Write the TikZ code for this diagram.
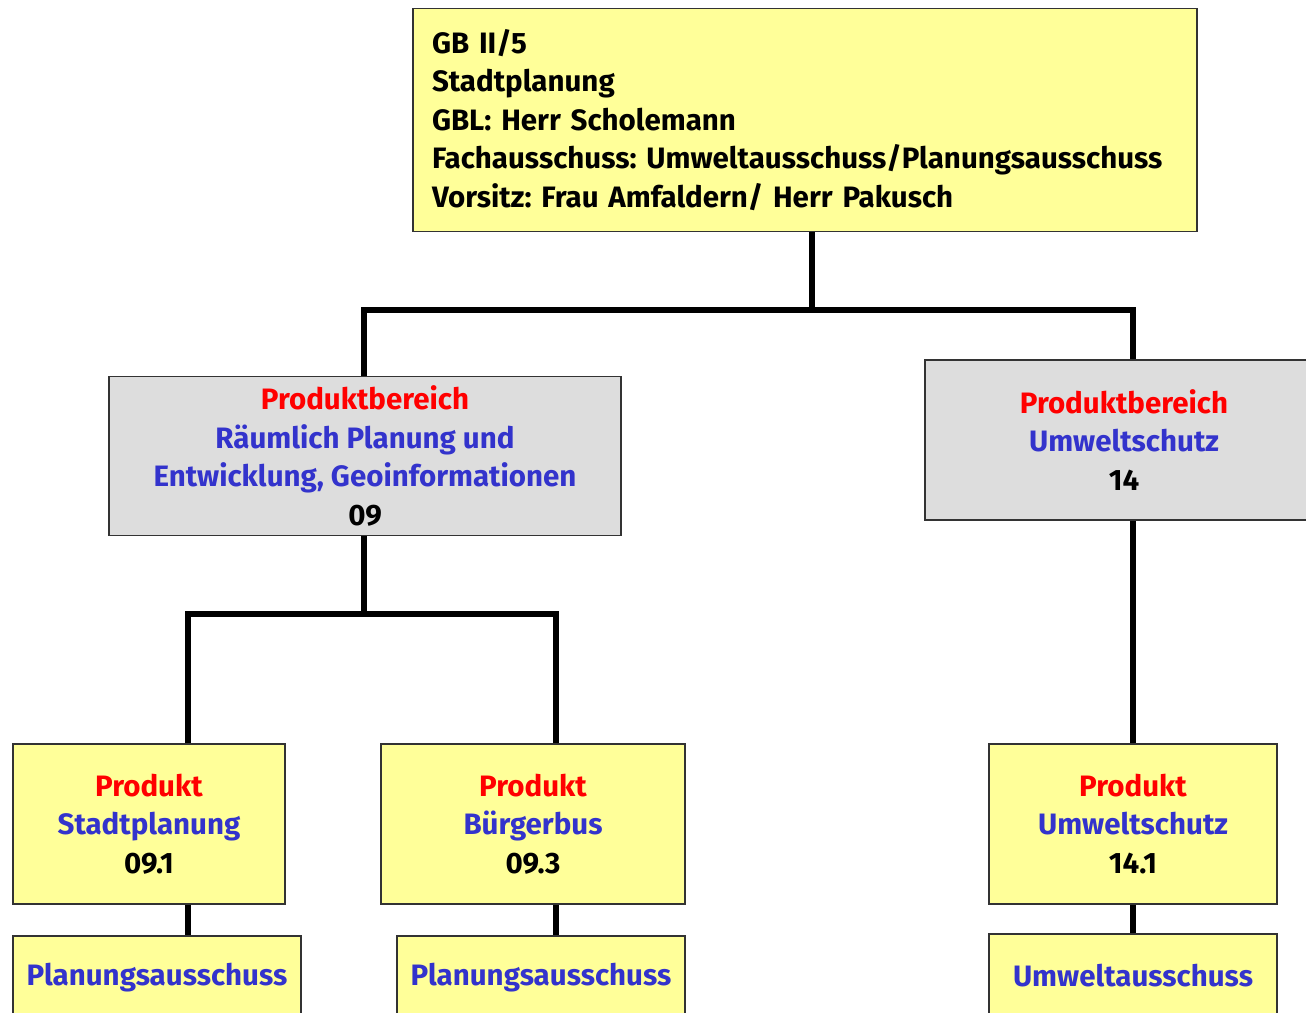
\documentclass[tikz,border=0pt]{standalone}
\usepackage{fontspec}
\setmainfont{Fira Sans}
\usetikzlibrary{positioning,calc}
\definecolor{boxyellow}{HTML}{FFFF99}
\definecolor{boxgrey}{HTML}{DDDDDD}
\definecolor{prodred}{HTML}{FF0000}
\definecolor{prodblue}{HTML}{3333CC}
\frenchspacing

\begin{document}
\begin{tikzpicture}[x=1pt,y=-1pt,
  box/.style={draw=black!80, line width=1.5pt, inner sep=0pt, align=center,
    font=\bfseries\fontsize{29.5}{38.5}\selectfont},
  yellowbox/.style={box, fill=boxyellow},
  greybox/.style={box, fill=boxgrey},
  conn/.style={line width=6pt}]
\useasboundingbox (0,0) rectangle (1306,1012);
\clip (0,0) rectangle (1306,1012);

% Connector points
\coordinate (j1) at (812,310);
\coordinate (j2) at (364,614);
\coordinate (c1) at (188,0);
\coordinate (c2) at (556,0);

% Boxes
\node[yellowbox, minimum width=784, minimum height=223, text width=746, align=left] (gb) at (805,120)
  {GB II/5\\Stadtplanung\\GBL: Herr Scholemann\\Fachausschuss: Umweltausschuss/Planungsausschuss\\Vorsitz: Frau Amfaldern/ Herr Pakusch};
\node[greybox, minimum width=512, minimum height=159] (pb09) at (365,456)
  {\textcolor{prodred}{Produktbereich}\\\textcolor{prodblue}{Räumlich Planung und}\\\textcolor{prodblue}{Entwicklung, Geoinformationen}\\09};
\node[greybox, minimum width=398, minimum height=160] (pb14) at (1124,440)
  {\textcolor{prodred}{Produktbereich}\\\textcolor{prodblue}{Umweltschutz}\\14};
\node[yellowbox, minimum width=272, minimum height=160] (p091) at (149,824)
  {\textcolor{prodred}{Produkt}\\\textcolor{prodblue}{Stadtplanung}\\09.1};
\node[yellowbox, minimum width=304, minimum height=160] (p093) at (533,824)
  {\textcolor{prodred}{Produkt}\\\textcolor{prodblue}{Bürgerbus}\\09.3};
\node[yellowbox, minimum width=288, minimum height=160] (p141) at (1133,824)
  {\textcolor{prodred}{Produkt}\\\textcolor{prodblue}{Umweltschutz}\\14.1};
\node[yellowbox, minimum width=288, minimum height=84] (a091) at (157,978)
  {\textcolor{prodblue}{Planungsausschuss}};
\node[yellowbox, minimum width=288, minimum height=84] (a093) at (541,978)
  {\textcolor{prodblue}{Planungsausschuss}};
\node[yellowbox, minimum width=288, minimum height=84] (a141) at (1133,976)
  {\textcolor{prodblue}{Umweltausschuss}};

% Lines
\draw[conn] (gb.south -| j1) -- (j1);
\draw[conn] (pb09.north -| j2) |- (j1) -| (pb14.north -| p141.north);
\draw[conn] (pb09.south -| j2) -- (j2);
\draw[conn] (p091.north -| c1) |- (j2) -| (p093.north -| c2);
\draw[conn] (pb14.south -| p141.north) -- (p141.north);
\draw[conn] (p091.south -| c1) -- (a091.north -| c1);
\draw[conn] (p093.south -| c2) -- (a093.north -| c2);
\draw[conn] (p141.south) -- (a141.north);

\end{tikzpicture}
\end{document}
